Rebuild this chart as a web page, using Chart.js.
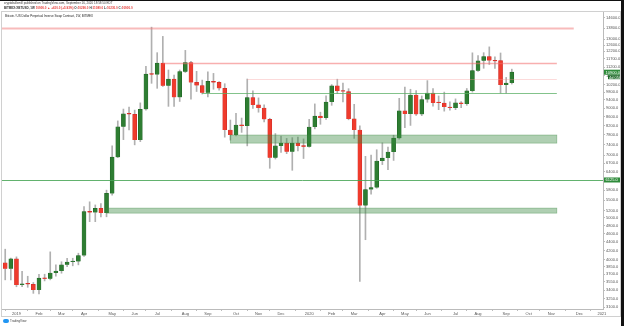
<!DOCTYPE html>
<html>
<head>
<meta charset="utf-8">
<script src="https://cdn.jsdelivr.net/npm/chart.js@4.4.0/dist/chart.umd.min.js"></script>
<style>
  html, body { margin: 0; padding: 0; background: #fff; }
  #wrap { position: relative; width: 624px; height: 326px; overflow: hidden; background: #fff; font-family: "Liberation Sans", Arial, sans-serif; }
  #chart { position: absolute; left: 0; top: 0; }
  .txt { position: absolute; white-space: nowrap; color: #333; font-size: 3px; line-height: 3px; }
  .red { color: #e53935; }
  #edgeTop { position: absolute; left: 0; top: 0; width: 624px; height: 1px; background: #111; }
  #edgeRight { position: absolute; right: 0; top: 0; width: 3px; height: 326px; background: #111; }
  #logo { position: absolute; left: 3px; top: 319px; width: 6px; height: 4px; background: #2196f3; border-radius: 2px; }
</style>
</head>
<body>
<div id="wrap">
  <canvas id="chart" width="621" height="326"></canvas>
  <div class="txt" style="left:4px;top:2px">cryptobullsmill published on TradingView.com, September 16, 2020 18:58:50 EDT</div>
  <div class="txt" style="left:4px;top:7px;font-weight:bold">BITMEX:XBTUSD, 1W <span class="red">10900.0 ▲ +610.0 (+5.93%)</span> O:<span class="red">10290.0</span> H:<span class="red">11080.0</span> L:<span class="red">10230.0</span> C:<span class="red">10900.0</span></div>
  <div class="txt" style="left:5px;top:15px;color:#222">Bitcoin / US Dollar Perpetual Inverse Swap Contract, 1W, BITMEX</div>
  <div id="logo"></div>
  <div class="txt" style="left:10px;top:320px;color:#444">TradingView</div>
  <div id="edgeTop"></div>
  <div id="edgeRight"></div>
</div>
<script>
// weekly candles, first one = week of 24 Dec 2018
const opens = [3930, 3810, 4015, 3495, 3515, 3505, 3400, 3625, 3610, 3725, 3765, 3890, 3950, 3962, 4090, 5170, 5150, 5265, 5130, 5700,
  6920, 8140, 8720, 8700, 7585, 8940, 10790, 10760, 11440, 10140, 10500, 9530, 10930, 11480, 10320, 10150, 9760, 10380, 10320, 10000,
  8000, 7790, 8220, 8180, 9520, 9150, 9000, 8470, 6900, 7350, 7465, 7120, 7465, 7350, 7320, 8130, 8620, 8530, 9290, 10130,
  9860, 9830, 8490, 8000, 5340, 5820, 5880, 6780, 6885, 7115, 7660, 8870, 8720, 9650, 8700, 9420, 9750, 9290, 9240, 9050,
  9000, 9250, 9200, 9860, 10990, 11590, 11850, 11610, 11600, 10180, 10290];
const highs = [4230, 4035, 4060, 3760, 3660, 3540, 3700, 3700, 4170, 3890, 3955, 4030, 4030, 4140, 5310, 5450, 5360, 5400, 5800, 7350,
  8400, 8950, 9050, 8900, 9250, 11250, 13870, 12100, 13200, 11030, 10740, 11030, 12250, 11550, 10950, 10450, 10920, 10830, 10360, 10250,
  8440, 8750, 8530, 10510, 9870, 9500, 9150, 8520, 7850, 7750, 7650, 7680, 7700, 7630, 8470, 9200, 8800, 9600, 10200, 10500,
  10290, 9980, 9180, 8180, 6950, 7000, 7200, 7470, 7300, 7780, 9480, 10070, 9950, 9880, 9600, 10420, 9990, 9600, 9800, 9300,
  9450, 9320, 9990, 12090, 11920, 12100, 12480, 11830, 12080, 10600, 11080];
const lows = [3590, 3590, 3460, 3460, 3450, 3340, 3330, 3570, 3590, 3660, 3720, 3850, 3870, 3890, 4070, 4900, 4900, 5030, 5030, 5650,
  6900, 7600, 8000, 7390, 7520, 8900, 10270, 10000, 10100, 9080, 9080, 9320, 10880, 9430, 9830, 9700, 9550, 9950, 9900, 7700,
  7580, 7750, 7900, 7350, 8980, 8800, 8350, 6520, 6850, 7100, 7050, 6450, 7150, 6870, 7300, 8050, 8250, 8470, 9130, 9730,
  9300, 8450, 7650, 3560, 4450, 5680, 5860, 6650, 6470, 6800, 7620, 8100, 8200, 8650, 8640, 9280, 9090, 8920, 8850, 8900,
  8920, 9020, 9130, 9800, 10950, 11130, 11360, 11120, 9750, 9750, 10230];
const closes = [3810, 4015, 3495, 3515, 3505, 3400, 3625, 3610, 3725, 3765, 3890, 3950, 3962, 4090, 5170, 5150, 5265, 5130, 5700, 6920,
  8140, 8720, 8700, 7585, 8940, 10790, 10760, 11440, 10140, 10500, 9530, 10930, 11480, 10320, 10150, 9760, 10380, 10320, 10000, 8000,
  7790, 8220, 8180, 9520, 9150, 9000, 8470, 6900, 7350, 7465, 7120, 7465, 7350, 7320, 8130, 8620, 8530, 9290, 10130, 9860,
  9830, 8490, 8000, 5340, 5820, 5880, 6780, 6885, 7115, 7660, 8870, 8720, 9650, 8700, 9420, 9750, 9250, 9240, 9050, 9000,
  9250, 9200, 9860, 10990, 11590, 11850, 11600, 11560, 10180, 10290, 10900];

// x axis: week index of the first bar of each month
const monthIdx = [2, 6, 10, 14, 19, 23, 27, 32, 36, 41, 45, 49, 54, 58, 62, 67, 71, 75, 80, 84, 89, 93, 97, 102, 106];
const monthLabels = ['2019', 'Feb', 'Mar', 'Apr', 'May', 'Jun', 'Jul', 'Aug', 'Sep', 'Oct', 'Nov', 'Dec',
  '2020', 'Feb', 'Mar', 'Apr', 'May', 'Jun', 'Jul', 'Aug', 'Sep', 'Oct', 'Nov', 'Dec', '2021'];

// price scale labels
const priceTicks = [14600, 13800, 13000, 12600, 12200, 11700, 11200, 10700, 10200, 9800, 9400, 9000, 8600, 8200, 7800, 7400,
  7000, 6700, 6400, 6100, 5800, 5500, 5200, 5000, 4800, 4600, 4400, 4200, 4000, 3850, 3700, 3550, 3400, 3250, 3100];

// drawn horizontal levels (price, from week, to week)
const linePrice = [13780, 11450, 10510, 9750, 6125];
const lineFrom = [-1, 28, 43, 35, -1];
const lineTo = [101, 98, 98, 98, 107];
// drawn zones
const zoneLow = [7460, 5130];
const zoneHigh = [7790, 5270];
const zoneFrom = [40, 18];
const zoneTo = [98, 98];

const lineStyle = [
  { color: 'rgba(242,120,120,0.5)', width: 2 },
  { color: 'rgba(242,110,110,0.55)', width: 1.5 },
  { color: 'rgba(245,150,150,0.35)', width: 1 },
  { color: 'rgba(90,175,100,0.75)', width: 1 },
  { color: 'rgba(70,165,85,0.85)', width: 1 }
];

const UP = '#2e7d32';
const DOWN = '#ef3b2c';
const isUp = closes.map((c, i) => c >= opens[i]);

const fmt = v => v.toFixed(1);

const levelPlugin = {
  id: 'levels',
  afterDatasetsDraw(chart) {
    const { ctx, chartArea: a, scales: { x, y } } = chart;
    ctx.save();
    ctx.beginPath();
    ctx.rect(a.left, a.top, a.right - a.left, a.bottom - a.top);
    ctx.clip();
    zoneLow.forEach((lo, i) => {
      const x0 = x.getPixelForValue(zoneFrom[i]);
      const x1 = x.getPixelForValue(zoneTo[i]);
      const y0 = y.getPixelForValue(zoneHigh[i]);
      const y1 = y.getPixelForValue(lo);
      ctx.fillStyle = 'rgba(56,135,62,0.4)';
      ctx.fillRect(x0, y0, x1 - x0, y1 - y0);
      ctx.strokeStyle = 'rgba(56,135,62,0.55)';
      ctx.lineWidth = 0.6;
      ctx.strokeRect(x0, y0, x1 - x0, y1 - y0);
    });
    linePrice.forEach((p, i) => {
      const py = Math.round(y.getPixelForValue(p)) + 0.5;
      ctx.strokeStyle = lineStyle[i].color;
      ctx.lineWidth = lineStyle[i].width;
      ctx.beginPath();
      ctx.moveTo(x.getPixelForValue(lineFrom[i]), py);
      ctx.lineTo(x.getPixelForValue(lineTo[i]), py);
      ctx.stroke();
    });
    ctx.restore();
  },
  afterDraw(chart) {
    const { ctx, chartArea: a, scales: { y } } = chart;
    const badge = (val, fill, text, x0, h) => {
      const py = y.getPixelForValue(val);
      ctx.fillStyle = fill;
      ctx.fillRect(x0, py - h / 2, 621 - x0 - 1, h);
      ctx.fillStyle = '#fff';
      ctx.font = '4px "Liberation Sans", Arial, sans-serif';
      ctx.textBaseline = 'middle';
      ctx.textAlign = 'left';
      ctx.fillText(text, x0 + 1.5, py + 0.3);
    };
    badge(linePrice[4], '#2e8b3a', fmt(linePrice[4]), a.right + 1, 5);
    const last = closes[closes.length - 1];
    badge(last, '#2e8b3a', fmt(last), a.right + 1, 5);
    // countdown under the last price
    const py = y.getPixelForValue(last) + 5;
    ctx.fillStyle = '#1f6b2a';
    ctx.fillRect(a.right + 5, py - 2, 12, 4);
    ctx.fillStyle = '#fff';
    ctx.fillText('4d 05h', a.right + 6, py + 0.2);
    // pane frame
    ctx.strokeStyle = '#d0d0d0';
    ctx.lineWidth = 1;
    ctx.strokeRect(a.left - 0.5, a.top - 0.5, 621 - a.left, 317 - a.top);
  }
};

new Chart(document.getElementById('chart'), {
  type: 'bar',
  data: {
    datasets: [
      {
        label: 'body',
        order: 0,
        grouped: false,
        data: opens.map((o, i) => ({ x: i, y: [o, closes[i]] })),
        backgroundColor: isUp.map(u => (u ? UP : DOWN)),
        borderColor: isUp.map(u => (u ? '#1b5e20' : '#c62828')),
        borderWidth: 0.5,
        barThickness: 4,
        minBarLength: 1
      },
      {
        label: 'wick',
        order: 1,
        grouped: false,
        data: highs.map((h, i) => ({ x: i, y: [lows[i], h] })),
        backgroundColor: '#b0b0b0',
        barThickness: 1
      }
    ]
  },
  options: {
    responsive: false,
    animation: false,
    events: [],
    layout: { padding: { top: 12, left: 2, right: 0, bottom: 9 } },
    plugins: { legend: { display: false }, tooltip: { enabled: false } },
    scales: {
      x: {
        type: 'linear',
        offset: false,
        min: -0.57,
        max: 106.2,
        afterBuildTicks: s => { s.ticks = monthIdx.map(v => ({ value: v })); },
        afterFit: s => { s.height = 8; },
        grid: { drawOnChartArea: false, tickLength: 2, color: '#bbb' },
        border: { color: '#bbb' },
        ticks: {
          autoSkip: false,
          maxRotation: 0,
          padding: 0,
          color: '#555',
          font: { size: 4, family: '"Liberation Sans", Arial, sans-serif' },
          callback: (v, i) => monthLabels[i]
        }
      },
      y: {
        type: 'logarithmic',
        position: 'right',
        min: 3072,
        max: 15040,
        afterBuildTicks: s => { s.ticks = priceTicks.map(v => ({ value: v })); },
        afterFit: s => { s.width = 18; },
        grid: { drawOnChartArea: false, tickLength: 2, color: '#bbb' },
        border: { color: '#bbb' },
        ticks: {
          autoSkip: false,
          padding: 1,
          color: '#555',
          font: { size: 4, family: '"Liberation Sans", Arial, sans-serif' },
          callback: v => fmt(v)
        }
      }
    }
  },
  plugins: [levelPlugin]
});
</script>
</body>
</html>
